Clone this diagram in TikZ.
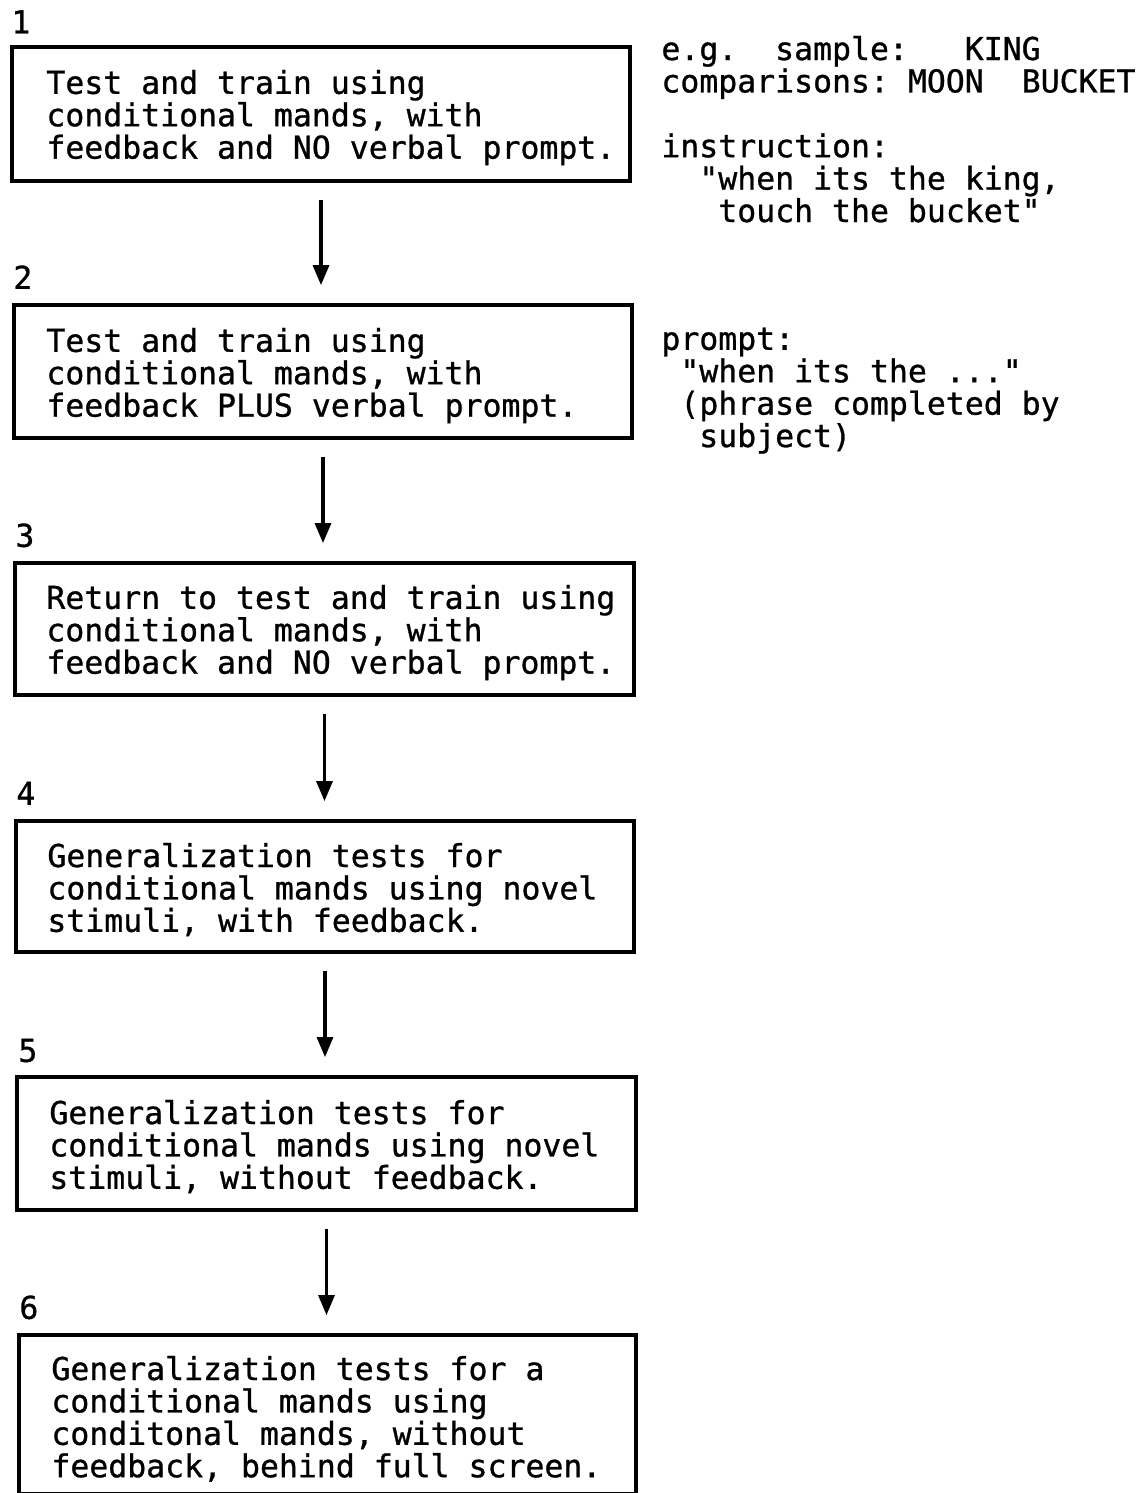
\documentclass[tikz,border=0pt]{standalone}
\usepackage{fontspec}
\newfontfamily\plotfont[FakeBold=0.9]{DejaVu Sans Mono}
\usetikzlibrary{arrows.meta,fit}
% fixed-height strut so every text block hangs from the same ascender line
\newcommand\topstrut{\rule{0pt}{0.76em}}
\begin{document}
\frenchspacing
\begin{tikzpicture}[x=0.5pt,y=-0.5pt,
  box/.style={draw,line width=1.9pt,inner sep=0pt},
  txt/.style={anchor=north west,inner sep=0pt,align=left,
    font=\plotfont\fontsize{15.75pt}{16.2pt}\selectfont},
  flow/.style={line width=1.6pt,-{Triangle[width=8pt,length=10pt]},
    shorten <=8.5pt,shorten >=9pt}]
\useasboundingbox (0,0) rectangle (1146,1493);

% step boxes
\node[box,fit={(12,47) (630,181)}]    (b1) {};
\node[box,fit={(14,305) (632,438)}]   (b2) {};
\node[box,fit={(15,563) (634,695)}]   (b3) {};
\node[box,fit={(16,821) (634,952)}]   (b4) {};
\node[box,fit={(17,1077) (636,1210)}] (b5) {};
\node[box,fit={(19,1335) (636,1494)}] (b6) {};

% step numbers
\node[txt] (n1) at (11,9)      {\topstrut 1};
\node[txt] (n2) at (13,264.5)  {\topstrut 2};
\node[txt] (n3) at (15,522.5)  {\topstrut 3};
\node[txt] (n4) at (16,780.5)  {\topstrut 4};
\node[txt] (n5) at (18,1037.5) {\topstrut 5};
\node[txt] (n6) at (19,1294.5) {\topstrut 6};

% box texts
\node[txt] (t1) at (46,69.5) {\topstrut Test and train using\\conditional mands, with\\feedback and NO verbal prompt.};
\node[txt] (t2) at (46,327.5) {\topstrut Test and train using\\conditional mands, with\\feedback PLUS verbal prompt.};
\node[txt] (t3) at (46,584.5) {\topstrut Return to test and train using\\conditional mands, with\\feedback and NO verbal prompt.};
\node[txt] (t4) at (47,842.5) {\topstrut Generalization tests for\\conditional mands using novel\\stimuli, with feedback.};
\node[txt] (t5) at (49,1099.5) {\topstrut Generalization tests for\\conditional mands using novel\\stimuli, without feedback.};
\node[txt] (t6) at (51,1355.5) {\topstrut Generalization tests for a\\conditional mands using\\conditonal mands, without\\feedback, behind full screen.};

% side notes
\node[txt] (s1) at (661,35.5) {\topstrut e.g.~~sample:~~~KING\\comparisons: MOON~~BUCKET\\[32.4pt-16.2pt]instruction:\\~~"when its the king,\\~~~touch the bucket"};
\node[txt] (s2) at (661,325.5) {\topstrut prompt:\\~"when its the ..."\\~(phrase completed by\\~~subject)};

% flow arrows
\draw[flow] (b1.south) -- (b1.south |- b2.north);
\draw[flow] (b2.south) -- (b2.south |- b3.north);
\draw[flow] (b3.south) -- (b3.south |- b4.north);
\draw[flow] (b4.south) -- (b4.south |- b5.north);
\draw[flow] (b5.south) -- (b5.south |- b6.north);
\end{tikzpicture}
\end{document}
